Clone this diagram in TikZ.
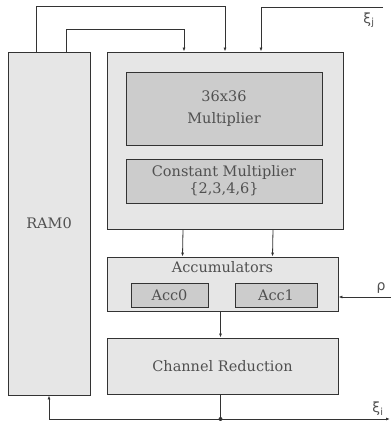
\documentclass[tikz,border=0pt]{standalone}
\usepackage{fontspec}
\setmainfont{DejaVu Serif}
\newfontfamily\greekfont{DejaVu Sans}
\usetikzlibrary{positioning,arrows.meta}
\definecolor{boxgray}{RGB}{230, 230, 230}
\definecolor{innergray}{RGB}{204, 204, 204}
\definecolor{linegray}{RGB}{51, 51, 51}
\definecolor{textgray}{RGB}{80, 80, 80}

\begin{document}
\begin{tikzpicture}[x=1pt, y=-1pt,
    block/.style={draw=linegray, fill=boxgray, line width=0.9pt, inner sep=0pt,
        text=textgray, font=\fontsize{14.5}{17}\selectfont, align=center},
    inner/.style={block, fill=innergray},
    wire/.style={draw=linegray, line width=0.8pt},
    arr/.style={wire, -{Latex[length=4pt,width=3pt]}},
    sym/.style={text=textgray, font=\greekfont\fontsize{14}{16}\selectfont}]
    \useasboundingbox (0,0) rectangle (391,421);

    % Memory
    \node[block, minimum width=82pt, minimum height=343pt] (ram) at (49,223.5) {RAM0};

    % Multiplier unit
    \node[block, minimum width=236pt, minimum height=177pt] (mult) at (225,140.5) {};
    \node[inner, minimum width=196pt, minimum height=73pt] (m36) at (224,108.5) {36x36\\[5pt]Multiplier};
    \node[inner, minimum width=196pt, minimum height=44pt] (cmult) at (224,181) {Constant Multiplier\\\{2,3,4,6\}};

    % Accumulators
    \node[block, minimum width=231pt, minimum height=54pt] (acc) at (222.5,284) {};
    \node[text=textgray, font=\fontsize{14.5}{17}\selectfont] (acclbl) at (222.5,267) {Accumulators};
    \node[inner, minimum width=77pt, minimum height=24pt] (acc0) at (169.5,295) {Acc0};
    \node[inner, minimum width=82pt, minimum height=24pt] (acc1) at (276,295) {Acc1};

    % Channel reduction
    \node[block, minimum width=231pt, minimum height=56pt] (cr) at (222.5,366) {Channel Reduction};

    % Outside ends
    \coordinate (xj) at (383,7);
    \coordinate (rho) at (391,297);
    \coordinate (xi) at (390,419);
    \coordinate (tap) at (cr.south |- xi);
    \node[sym] (xjlbl) at (369,20) {ξ\textsubscript{j}};
    \node[sym] (rholbl) at (381,288) {ρ};
    \node[sym] (xilbl) at (378,409) {ξ\textsubscript{i}};

    % Connections
    \draw[arr] ([xshift=-13pt]ram.north) -- ++(0,-45) -| (mult.north);
    \draw[arr] ([xshift=17pt]ram.north) -- ++(0,-22) -| ([xshift=-41pt]mult.north);
    \draw[arr] (xj) -| ([xshift=36pt]mult.north);
    \draw[arr] ([xshift=-42pt]mult.south) -- ([xshift=-40pt]acc.north);
    \draw[arr] ([xshift=48pt]mult.south) -- ([xshift=50pt]acc.north);
    \draw[arr] (rho) -- (rho -| acc.east);
    \draw[arr] ([xshift=-2pt]acc.south) -- ([xshift=-2pt]cr.north);
    \draw[wire] ([xshift=-2pt]cr.south) -- ([xshift=-2pt]tap);
    \draw[arr] ([xshift=-2pt]tap) -| (ram.south);
    \draw[arr] ([xshift=-2pt]tap) -- (xi);
    \fill[linegray] ([xshift=-2pt]tap) circle (2pt);
\end{tikzpicture}
\end{document}
